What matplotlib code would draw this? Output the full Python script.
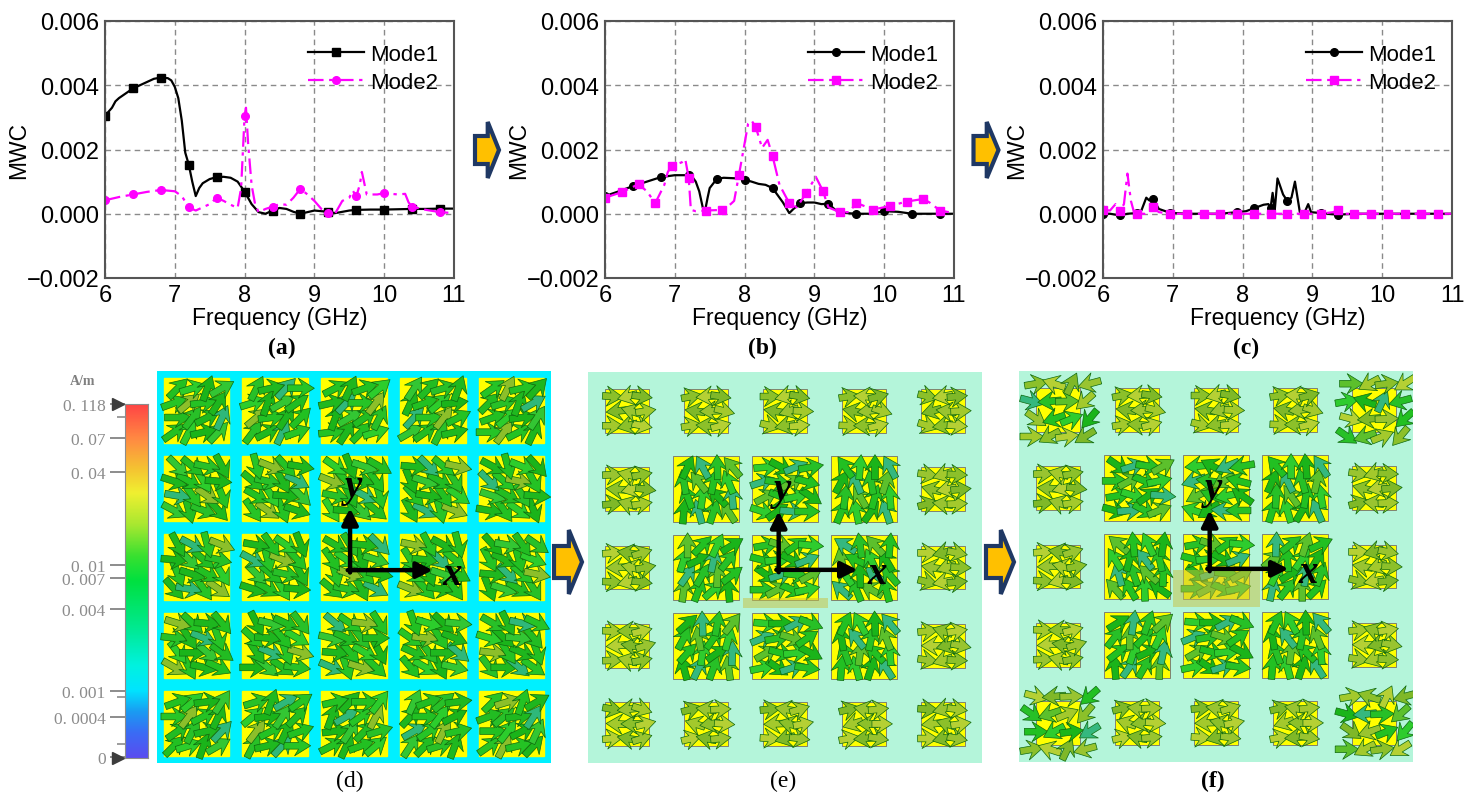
import numpy as np
import matplotlib
matplotlib.use("Agg")
import matplotlib.pyplot as plt
from matplotlib.colors import LinearSegmentedColormap
from matplotlib.patches import Rectangle, Polygon
from matplotlib.ticker import FuncFormatter

W, H = 1470, 804
plt.rcParams['font.family'] = ['Liberation Sans', 'DejaVu Sans']
SERIF = ['Liberation Serif', 'DejaVu Serif']

# ---- (a) MWC, values in 1e-3 ----
a_m1_f = [6.0, 6.1, 6.15, 6.2, 6.3, 6.4, 6.5, 6.6, 6.7, 6.8, 6.9, 6.95, 7.0, 7.05, 7.1, 7.15, 7.2,
          7.25, 7.3, 7.35, 7.4, 7.5, 7.6, 7.7, 7.8, 7.9, 8.0, 8.1, 8.2, 8.3, 8.4, 8.5, 8.6, 8.7,
          8.8, 8.9, 9.0, 9.1, 9.2, 9.3, 9.4, 9.5, 9.6, 9.8, 10.0, 10.2, 10.4, 10.6, 10.8, 11.0]
a_m1_v = [3.05, 3.3, 3.5, 3.6, 3.75, 3.9, 4.0, 4.1, 4.2, 4.24, 4.22, 4.15, 3.95, 3.6, 2.9, 1.9, 1.53,
          1.0, 0.55, 0.8, 0.95, 1.08, 1.14, 1.15, 1.12, 1.0, 0.69, 0.3, 0.05, 0.0, 0.1, 0.18, 0.15,
          0.06, 0.0, 0.05, 0.1, 0.08, 0.06, 0.02, 0.06, 0.1, 0.12, 0.13, 0.13, 0.14, 0.15, 0.15, 0.16, 0.16]
a_m2_f = [6.0, 6.2, 6.4, 6.6, 6.8, 7.0, 7.1, 7.2, 7.3, 7.4, 7.5, 7.6, 7.7, 7.8, 7.9, 7.95, 8.0, 8.02,
          8.05, 8.1, 8.15, 8.2, 8.3, 8.4, 8.5, 8.6, 8.7, 8.8, 8.9, 9.0, 9.1, 9.2, 9.3, 9.4, 9.5, 9.55,
          9.6, 9.65, 9.68, 9.75, 9.9, 10.0, 10.1, 10.2, 10.3, 10.35, 10.4, 10.6, 10.8, 11.0]
a_m2_v = [0.42, 0.52, 0.6, 0.68, 0.74, 0.7, 0.55, 0.2, 0.1, 0.2, 0.3, 0.5, 0.4, 0.28, 0.18, 0.8, 3.05,
          3.3, 2.2, 0.9, 0.3, 0.05, 0.15, 0.22, 0.3, 0.28, 0.5, 0.78, 0.6, 0.4, 0.15, 0.03, 0.02, 0.4,
          0.5, 0.72, 0.54, 0.9, 1.3, 0.6, 0.6, 0.64, 0.62, 0.6, 0.62, 0.35, 0.22, 0.12, 0.05, 0.02]
a_m1_marks = [6.0, 6.4, 6.8, 7.2, 7.6, 8.0, 8.4, 8.8, 9.2, 9.6, 10.0, 10.4, 10.8]
a_m2_marks = [6.0, 6.4, 6.8, 7.2, 7.6, 8.0, 8.4, 8.8, 9.2, 9.6, 10.0, 10.4, 10.8]

# ---- (b) ----
b_m1_f = [6.0, 6.2, 6.4, 6.6, 6.8, 7.0, 7.2, 7.25, 7.3, 7.35, 7.4, 7.43, 7.47, 7.5, 7.6, 7.7, 7.8,
          7.9, 8.0, 8.1, 8.2, 8.3, 8.4, 8.5, 8.55, 8.64, 8.7, 8.8, 8.9, 9.0, 9.1, 9.2, 9.3, 9.4,
          9.6, 9.8, 10.0, 10.2, 10.4, 10.6, 10.8, 11.0]
b_m1_v = [0.55, 0.7, 0.86, 1.0, 1.14, 1.2, 1.2, 1.15, 1.0, 0.7, 0.2, 0.05, 0.5, 0.8, 1.08, 1.12,
          1.11, 1.1, 1.06, 1.0, 0.93, 0.9, 0.8, 0.5, 0.35, 0.02, 0.15, 0.33, 0.35, 0.35, 0.3, 0.31,
          0.12, 0.03, 0.0, 0.0, 0.08, 0.06, 0.0, 0.0, 0.0, 0.0]
b_m2_f = [6.0, 6.24, 6.48, 6.6, 6.72, 6.85, 6.9, 6.96, 7.1, 7.15, 7.2, 7.23, 7.3, 7.44, 7.68, 7.8,
          7.85, 7.92, 8.05, 8.1, 8.16, 8.25, 8.33, 8.4, 8.5, 8.64, 8.75, 8.88, 9.02, 9.12, 9.2, 9.36,
          9.5, 9.6, 9.84, 10.08, 10.32, 10.56, 10.65, 10.8, 11.0]
b_m2_v = [0.5, 0.67, 0.92, 0.7, 0.33, 0.9, 1.3, 1.5, 1.6, 1.7, 1.1, 0.12, 0.08, 0.1, 0.12, 0.3,
          0.4, 1.22, 2.8, 2.9, 2.7, 2.05, 2.3, 1.8, 0.9, 0.33, 0.2, 0.64, 1.15, 0.72, 0.2, 0.05,
          0.05, 0.34, 0.13, 0.24, 0.38, 0.46, 0.35, 0.1, 0.02]
b_m1_marks = [6.0, 6.4, 6.8, 7.2, 7.6, 8.0, 8.4, 8.8, 9.2, 9.6, 10.0, 10.4, 10.8]
b_m2_marks = [6.0, 6.24, 6.48, 6.72, 6.96, 7.2, 7.44, 7.68, 7.92, 8.16, 8.4, 8.64, 8.88, 9.12,
              9.36, 9.6, 9.84, 10.08, 10.32, 10.56, 10.8]

# ---- (c) ----
c_m1_f = [6.0, 6.1, 6.24, 6.35, 6.48, 6.55, 6.62, 6.66, 6.72, 6.8, 6.96, 7.2, 7.44, 7.68, 7.92,
          8.05, 8.16, 8.3, 8.37, 8.4, 8.43, 8.46, 8.5, 8.58, 8.64, 8.7, 8.75, 8.82, 8.88, 8.94,
          8.98, 9.12, 9.36, 9.6, 9.84, 10.08, 10.32, 10.56, 10.8, 11.0]
c_m1_v = [0.0, 0.0, -0.05, 0.0, 0.02, 0.1, 0.5, 0.42, 0.45, 0.15, 0.03, 0.0, 0.0, 0.0, 0.05,
          0.08, 0.17, 0.28, 0.3, 0.17, 0.65, 0.1, 1.1, 0.6, 0.4, 0.5, 1.0, 0.05, 0.0, 0.3,
          0.05, 0.02, -0.03, 0.0, 0.0, 0.0, 0.0, 0.0, 0.0, 0.0]
c_m2_f = [6.0, 6.1, 6.18, 6.24, 6.3, 6.35, 6.4, 6.45, 6.48, 6.6, 6.68, 6.72, 6.8, 6.96, 7.2, 7.44,
          7.68, 7.92, 8.16, 8.4, 8.64, 8.88, 9.12, 9.3, 9.36, 9.42, 9.6, 9.84, 10.08, 10.32, 10.56,
          10.8, 11.0]
c_m2_v = [0.12, 0.1, 0.3, 0.08, 0.3, 1.25, 0.4, 0.0, 0.0, 0.0, 0.15, 0.2, 0.05, 0.0, 0.0, 0.0,
          0.0, 0.0, 0.0, 0.0, 0.0, 0.0, 0.0, 0.05, 0.12, 0.0, 0.0, 0.0, 0.0, 0.0, 0.0, 0.0, 0.0]
c_m1_marks = [6.0, 6.24, 6.48, 6.72, 6.96, 7.2, 7.44, 7.68, 7.92, 8.16, 8.4, 8.64, 8.88, 9.12,
              9.36, 9.6, 9.84, 10.08, 10.32, 10.56, 10.8]
c_m2_marks = c_m1_marks

# ---- colour bar ----
cb_labels = ['0. 118', '0. 07', '0. 04', '0. 01', '0. 007', '0. 004', '0. 001', '0. 0004', '0']
cb_pos = [1.0, 0.904, 0.808, 0.546, 0.508, 0.421, 0.189, 0.116, 0.003]
cb_minor = [0.963, 0.172, 0.04]
cb_stops = [(0.0, '#5a4cf0'), (0.07, '#3a6cf5'), (0.13, '#1a9cf2'), (0.19, '#00e4ff'),
            (0.26, '#00f2e0'), (0.36, '#00ea95'), (0.5, '#00e040'), (0.57, '#38e030'),
            (0.66, '#a8e830'), (0.75, '#f0f030'), (0.82, '#f5c232'), (0.9, '#ff8c42'),
            (1.0, '#ff4545')]

# ---- surface current panels ----
grid_centers = [0.5, 1.5, 2.5, 3.5, 4.5]
d_patch_size = 0.83
e_outer_size = 0.56
e_inner_size = 0.84
d_row_dir = [35, -40, -40, -35, 35]
e_inner_dir = [[100, 0, 90], [60, 0, 120], [70, 0, 100]]
f_inner_dir = [[0, 180, 95], [110, 0, 60], [60, 0, 100]]
jitter = [0, 28, -22, 12, -35, 18, -8, 30, -15, 5, -28, 22, 10, -18, 35, -5]
d_colors = ['#22c022', '#2ccd2c', '#1ab41a', '#33c633', '#22bc22', '#28c028', '#1fb81f', '#2fb87a',
            '#26c426', '#8cbf2a', '#24c224', '#1eb61e']
outer_colors = ['#a3c92c', '#8cc02a', '#b5d034', '#7fb828', '#99c430']
inner_colors = ['#22c022', '#2ecc2e', '#1ab41a', '#35b87f', '#27c027', '#5cc02c']


def box(x0, y0, x1, y1):
    return [x0 / W, 1 - y1 / H, (x1 - x0) / W, (y1 - y0) / H]


fig = plt.figure(figsize=(W / 100, H / 100), dpi=100)


def mwc_plot(rect, m1, m2, tag, tag_x):
    ax = fig.add_axes(box(*rect))
    series = [(m1, 'black', '-', 'Mode1'), (m2, '#ff00ff', (0, (7, 2.5, 1.5, 2.5)), 'Mode2')]
    for (f, v, marks, mk), col, ls, lab in series:
        f = np.array(f)
        idx = np.flatnonzero(np.isclose(f[:, None], np.array(marks)[None, :]).any(axis=1))
        ax.plot(f, np.array(v) * 1e-3, color=col, ls=ls, lw=1.6, marker=mk, ms=5.5,
                markevery=list(idx), label=lab)
    ax.set_xlim(6, 11)
    ax.set_ylim(-0.002, 0.006)
    ax.set_xticks([6, 7, 8, 9, 10, 11])
    ax.set_yticks([-0.002, 0.0, 0.002, 0.004, 0.006])
    ax.yaxis.set_major_formatter(FuncFormatter(lambda y, p: ('%.3f' % y).replace('-', '\u2212')))
    ax.grid(True, ls=(0, (4, 3)), color='#8a8a8a', lw=1)
    ax.tick_params(length=0, labelsize=17, pad=4)
    for s in ax.spines.values():
        s.set_color('#555555')
        s.set_linewidth(1.5)
    ax.set_xlabel('Frequency (GHz)', fontsize=16.5, labelpad=0)
    ax.set_ylabel('MWC', fontsize=16.5)
    ax.yaxis.set_label_coords(-0.215, 0.5)
    ax.legend(loc='upper right', bbox_to_anchor=(0.955, 0.91), frameon=False, fontsize=16,
              handlelength=2.5, labelspacing=0.3, borderpad=0, borderaxespad=0, handletextpad=0.3)
    fig.text(tag_x / W, 1 - 348 / H, tag, ha='center', va='center', fontsize=17,
             fontweight='bold', family=SERIF)


mwc_plot((105, 22, 454, 279), (a_m1_f, a_m1_v, a_m1_marks, 's'), (a_m2_f, a_m2_v, a_m2_marks, 'o'),
         '(a)', 282)
mwc_plot((605, 22, 954, 279), (b_m1_f, b_m1_v, b_m1_marks, 'o'), (b_m2_f, b_m2_v, b_m2_marks, 's'),
         '(b)', 762)
mwc_plot((1103, 22, 1452, 279), (c_m1_f, c_m1_v, c_m1_marks, 'o'), (c_m2_f, c_m2_v, c_m2_marks, 's'),
         '(c)', 1246)


def arrows_on_patch(ax, cx, cy, spread, n, length, bases, colors, seed, jit_scale=1.0):
    xs, ys, us, vs, cs = [], [], [], [], []
    k = 0
    for r in range(n):
        for c in range(n):
            ox = ((c + 0.5) / n - 0.5 + (0.25 / n if r % 2 else 0)) * spread
            oy = ((r + 0.5) / n - 0.5) * spread
            base = bases[k % len(bases)] if isinstance(bases, list) else bases
            ang = np.deg2rad(base + jit_scale * jitter[(k + seed) % len(jitter)])
            xs.append(cx + ox)
            ys.append(cy + oy)
            us.append(length * np.cos(ang))
            vs.append(length * np.sin(ang))
            cs.append(colors[(k + seed) % len(colors)])
            k += 1
    ax.quiver(xs, ys, us, vs, color=cs, angles='xy', scale_units='xy', scale=1, pivot='middle',
              width=0.017, headwidth=3.0, headlength=2.4, headaxislength=1.8,
              edgecolor='#0e6a0e', linewidth=0.5, zorder=3)


def coord_axes(ax, ox, oy, tx, ty):
    kw = dict(arrowstyle='-|>', lw=3.2, color='black', mutation_scale=24, shrinkA=0, shrinkB=0)
    ax.annotate('', xy=(tx, oy), xytext=(ox - 0.03, oy), arrowprops=kw, zorder=6)
    ax.annotate('', xy=(ox, ty), xytext=(ox, oy - 0.03), arrowprops=kw, zorder=6)
    ax.text(ox + 0.05, ty + 0.28, 'y', fontsize=28, style='italic', fontweight='bold',
            family=SERIF, ha='center', va='center', zorder=7)
    ax.text(tx + 0.25, oy - 0.05, 'x', fontsize=28, style='italic', fontweight='bold',
            family=SERIF, ha='center', va='center', zorder=7)


def panel_axes(rect, bg):
    ax = fig.add_axes(box(*rect))
    ax.set_xlim(0, 5)
    ax.set_ylim(0, 5)
    ax.set_facecolor(bg)
    ax.set_xticks([])
    ax.set_yticks([])
    for s in ax.spines.values():
        s.set_visible(False)
    return ax


# (d)
ax_d = panel_axes((157, 372, 551, 764), '#00f0ff')
for ri, cy in enumerate(grid_centers[::-1]):
    for ci, cx in enumerate(grid_centers):
        s = d_patch_size
        ax_d.add_patch(Rectangle((cx - s / 2, cy - s / 2), s, s, color='#ffff00', zorder=1))
        arrows_on_patch(ax_d, cx, cy, s * 0.9, 4, 0.34, d_row_dir[ri], d_colors, 3 * ri + 5 * ci)
coord_axes(ax_d, 2.45, 2.46, 3.5, 3.25)
fig.text(350 / W, 1 - 781 / H, '(d)', ha='center', va='center', fontsize=17, family=SERIF)


def ring_panel(rect, inner_dir, tag, tag_x, corner_big, feed):
    ax = panel_axes(rect, '#b4f5da')
    for ri, cy in enumerate(grid_centers[::-1]):
        for ci, cx in enumerate(grid_centers):
            inner = 1 <= ri <= 3 and 1 <= ci <= 3
            corner = ri in (0, 4) and ci in (0, 4)
            s = e_inner_size if inner else e_outer_size
            ax.add_patch(Rectangle((cx - s / 2, cy - s / 2), s, s, fc='#ffff00', ec='#707070',
                                   lw=0.6, zorder=1))
            seed = 3 * ri + 5 * ci
            if inner:
                arrows_on_patch(ax, cx, cy, s * 0.9, 4, 0.32, inner_dir[ri - 1][ci - 1],
                                inner_colors, seed)
            elif corner and corner_big:
                arrows_on_patch(ax, cx, cy, 0.9, 4, 0.3, [0, 180, 30, 200], outer_colors + inner_colors,
                                seed)
            else:
                arrows_on_patch(ax, cx, cy, s * 1.0, 3, 0.26, [0, 180, 0, 180, 180, 0], outer_colors,
                                seed, jit_scale=0.5)
    ax.add_patch(Rectangle(feed[:2], feed[2], feed[3], fc='#c8c040', alpha=0.5, zorder=4))
    coord_axes(ax, 2.42, 2.47, 3.42, 3.22)
    fig.text(tag_x / W, 1 - 781 / H, tag, ha='center', va='center', fontsize=17, family=SERIF,
             fontweight='bold' if tag == '(f)' else 'normal')


ring_panel((588, 373, 982, 764), e_inner_dir, '(e)', 783, False, (1.97, 1.98, 1.07, 0.13))
ring_panel((1019, 372, 1413, 763), f_inner_dir, '(f)', 1213, True, (1.96, 1.98, 1.1, 0.48))

# colour bar
cmap = LinearSegmentedColormap.from_list('cur', cb_stops)
ax_cb = fig.add_axes(box(125, 405, 148, 759))
ax_cb.imshow(np.linspace(0, 1, 256)[:, None], aspect='auto', cmap=cmap, origin='lower',
             extent=(0, 1, 0, 1))
ax_cb.set_xticks([])
ax_cb.set_yticks(cb_pos, cb_labels, family=SERIF, fontsize=12.5, color='#8c8c8c')
ax_cb.set_yticks(cb_minor, minor=True)
ax_cb.tick_params(axis='y', which='major', length=11, width=1.4, color='#8c8c8c', pad=3)
ax_cb.tick_params(axis='y', which='minor', length=6, width=1.2, color='#8c8c8c')
for s in ax_cb.spines.values():
    s.set_color('#8c8c8c')
ax_cb.plot([-0.3, -0.3], [1.0, 0.0], ls='none', marker='>', ms=9, color='#3c3c3c',
           transform=ax_cb.transAxes, clip_on=False)
fig.text(83 / W, 1 - 382 / H, 'A/m', ha='center', va='center', fontsize=10, color='#808080',
         fontweight='bold', family=SERIF)

# orange flow arrows
ax_o = fig.add_axes([0, 0, 1, 1])
ax_o.set_xlim(0, W)
ax_o.set_ylim(H, 0)
ax_o.axis('off')
ax_o.patch.set_alpha(0)


def block_arrow(cx, cy, w, h):
    bw, bh, x0 = 0.53 * w, 0.5 * h, cx - w / 2
    pts = [(x0, cy - bh / 2), (x0 + bw, cy - bh / 2), (x0 + bw, cy - h / 2), (x0 + w, cy),
           (x0 + bw, cy + h / 2), (x0 + bw, cy + bh / 2), (x0, cy + bh / 2)]
    ax_o.add_patch(Polygon(pts, closed=True, fc='#ffc000', ec='#1f3864', lw=3, joinstyle='miter'))


for cx, cy, w, h in [(487, 151, 24, 56), (986, 151, 25, 56), (568, 563, 28, 64), (1000, 563, 28, 64)]:
    block_arrow(cx, cy, w, h)

fig.savefig('out.png', dpi=100)
